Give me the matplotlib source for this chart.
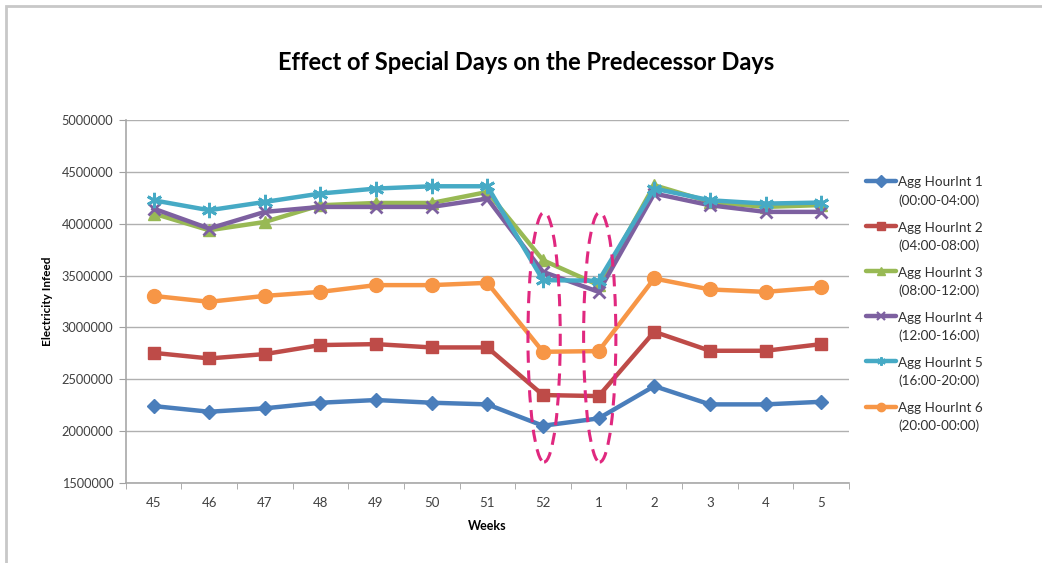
import numpy as np
import matplotlib.pyplot as plt
from matplotlib.lines import Line2D
from matplotlib.patches import Ellipse, Rectangle

plt.rcParams['font.family'] = ['Lato', 'DejaVu Sans']

weeks = ['45', '46', '47', '48', '49', '50', '51', '52', '1', '2', '3', '4', '5']

hour1 = [2242000, 2187000, 2220000, 2274000, 2300000, 2274000, 2258000,
         2052000, 2123000, 2434000, 2258000, 2258000, 2283000]
hour2 = [2755000, 2701000, 2743000, 2830000, 2839000, 2807000, 2807000,
         2348000, 2338000, 2958000, 2775000, 2775000, 2839000]
hour3 = [4098000, 3937000, 4017000, 4178000, 4200000, 4200000, 4306000,
         3648000, 3408000, 4371000, 4210000, 4162000, 4180000]
hour4 = [4146000, 3953000, 4114000, 4162000, 4162000, 4162000, 4242000,
         3536000, 3343000, 4291000, 4178000, 4114000, 4114000]
hour5 = [4226000, 4130000, 4210000, 4291000, 4339000, 4361000, 4361000,
         3456000, 3450000, 4339000, 4226000, 4194000, 4204000]
hour6 = [3304000, 3247000, 3304000, 3343000, 3408000, 3408000, 3430000,
         2765000, 2772000, 3472000, 3366000, 3343000, 3385000]

names = ['Agg HourInt 1', 'Agg HourInt 2', 'Agg HourInt 3',
         'Agg HourInt 4', 'Agg HourInt 5', 'Agg HourInt 6']
spans = ['(00:00-04:00)', '(04:00-08:00)', '(08:00-12:00)',
         '(12:00-16:00)', '(16:00-20:00)', '(20:00-00:00)']

# weeks around the special days that get circled
special = ['52', '1']

series = [hour1, hour2, hour3, hour4, hour5, hour6]
colors = ['#4a7ebb', '#be4b48', '#98b954', '#7d60a0', '#46aac5', '#f79646']
# (6, 2, 0) is an asterisk: an x with a vertical bar through it
markers = ['D', 's', '^', 'x', (6, 2, 0), 'o']
msizes = [7, 9, 8, 9, 11, 10]

W, H = 1042, 563
fig = plt.figure(figsize=(W / 100, H / 100), dpi=100)
# thin grey frame around the chart area
fig.patches.append(Rectangle((6 / W, -0.1), 1.2, 1 - 6 / H + 0.1,
                             transform=fig.transFigure, fill=False,
                             edgecolor='#c8c8c8', lw=2))

ax = fig.add_axes([125.7 / W, 1 - 483 / H, (849 - 125.7) / W, (483 - 120) / H])
x = np.arange(len(weeks))

for s, c, m, ms in zip(series, colors, markers, msizes):
    mew = 2.0 if m in ('x', (6, 2, 0)) else 1
    ax.plot(x, s, color=c, lw=3.2, marker=m, ms=ms, mew=mew,
            mec=c, mfc=c, solid_joinstyle='round')

for w in special:
    i = weeks.index(w)
    ax.add_patch(Ellipse((i + 0.02, 2906000), 0.58, 2408000, fill=False,
                         edgecolor='#e0287f', lw=2.2, ls=(0, (4, 2.5)),
                         zorder=5, clip_on=False))

ax.set_xlim(-0.5, len(weeks) - 0.5)
ax.set_ylim(1500000, 5000000)
ax.set_yticks(np.arange(1500000, 5000001, 500000))
ax.set_yticklabels([str(v) for v in range(1500000, 5000001, 500000)])
ax.set_xticks(x)
ax.set_xticklabels(weeks)
ax.set_xticks(np.arange(-0.5, len(weeks), 1), minor=True)
ax.tick_params(axis='x', which='major', length=0, pad=10, labelsize=9.5, colors='#404040')
ax.tick_params(axis='x', which='minor', length=4, color='#a0a0a0', direction='out')
ax.tick_params(axis='y', length=5, labelsize=9.2, pad=4, colors='#a0a0a0', labelcolor='#404040')

ax.grid(axis='y', color='#b0b0b0', lw=1)
ax.set_axisbelow(True)
for side in ['top', 'right']:
    ax.spines[side].set_visible(False)
for side in ['left', 'bottom']:
    ax.spines[side].set_color('#a8a8a8')
    ax.spines[side].set_linewidth(1.2)

ax.set_xlabel('Weeks', fontsize=9, fontweight='bold', labelpad=8)
ax.set_ylabel('Electricity Infeed', fontsize=8.5, fontweight='bold', labelpad=6)
fig.text(526 / W, 1 - 62 / H, 'Effect of Special Days on the Predecessor Days',
         ha='center', va='center', fontsize=17, fontweight='bold')

# legend: handle sits level with the first of the two label lines
for i, (c, m, name, span) in enumerate(zip(colors, markers, names, spans)):
    yl = 181 + 45.1 * i
    mew = 1.6 if m in ('x', (6, 2, 0)) else 1
    fig.add_artist(Line2D([866 / W, 896 / W], [1 - yl / H] * 2, transform=fig.transFigure,
                          color=c, lw=3.2, solid_capstyle='round'))
    fig.add_artist(Line2D([881 / W], [1 - yl / H], transform=fig.transFigure,
                          color=c, lw=0, marker=m, ms=6, mew=mew, mec=c, mfc=c))
    fig.text(898 / W, 1 - (yl + 1.5) / H, name, ha='left', va='center',
             fontsize=9.7, color='#303030')
    fig.text(898 / W, 1 - (yl + 19.5) / H, span, ha='left', va='center',
             fontsize=9.7, color='#303030')

fig.savefig('out.png', dpi=100)
